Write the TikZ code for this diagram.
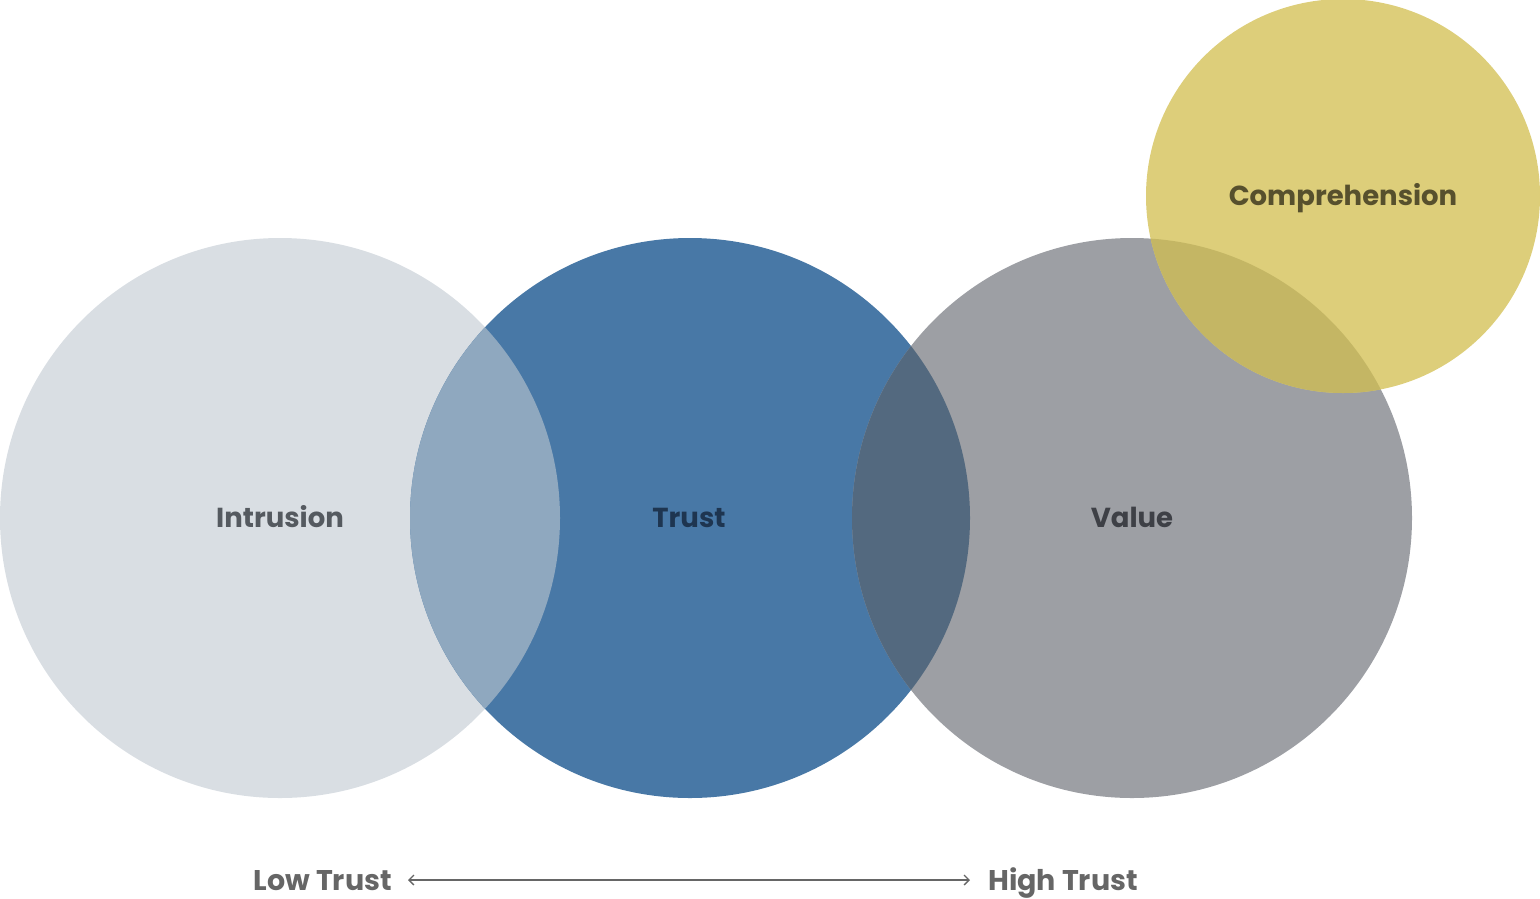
\documentclass[tikz,border=0pt]{standalone}
\usepackage{fontspec}
\setmainfont{Poppins}
\usetikzlibrary{arrows.meta}
\begin{document}
\begin{tikzpicture}[x=1pt, y=-1pt,
    label/.style={font=\bfseries\fontsize{27.5}{27.5}\selectfont, inner sep=0pt, anchor=base},
    ends/.style={font=\bfseries\fontsize{28.5}{28.5}\selectfont, text=endgray, inner sep=0pt},
  ]

\definecolor{intrusion}{HTML}{D9DEE3}
\definecolor{trust}{HTML}{4878A6}
\definecolor{value}{HTML}{9D9FA4}
\definecolor{compr}{HTML}{DDCE7A}
\definecolor{endgray}{HTML}{666666}

\useasboundingbox (0,0) rectangle (1540,898);

%circles
\fill[intrusion] (280,518) circle (280);
\fill[trust] (690,518) circle (280);
\fill[value] (1132,518) circle (280);
\fill[compr] (1343,196) circle (197);

%overlaps
\begin{scope}
  \clip (280,518) circle (280);
  \fill[color={rgb,255:red,143;green,168;blue,191}] (690,518) circle (280);
\end{scope}
\begin{scope}
  \clip (690,518) circle (280);
  \fill[color={rgb,255:red,83;green,105;blue,127}] (1132,518) circle (280);
\end{scope}
\begin{scope}
  \clip (1132,518) circle (280);
  \fill[color={rgb,255:red,196;green,182;blue,100}] (1343,196) circle (197);
\end{scope}

%labels
\node[label, text={rgb,255:red,85;green,90;blue,96}] (intr) at (280,527) {Intrusion};
\node[label, text={rgb,255:red,30;green,53;blue,80}] (tr) at (689,527) {Trust};
\node[label, text={rgb,255:red,62;green,64;blue,70}] (val) at (1132,527) {Value};
\node[label, text={rgb,255:red,87;green,80;blue,45}] (comp) at (1343,205) {Comprehension};

%low to high
\node[ends, anchor=base east] (low) at (392,890) {Low Trust};
\node[ends, anchor=base west] (high) at (988,890) {High Trust};
\draw[endgray, line width=1.3, {Straight Barb[length=5,width=10]}-{Straight Barb[length=5,width=10]}]
  ([xshift=16,yshift=10]low.base east) -- ([xshift=-18,yshift=10]high.base west);

\end{tikzpicture}
\end{document}
